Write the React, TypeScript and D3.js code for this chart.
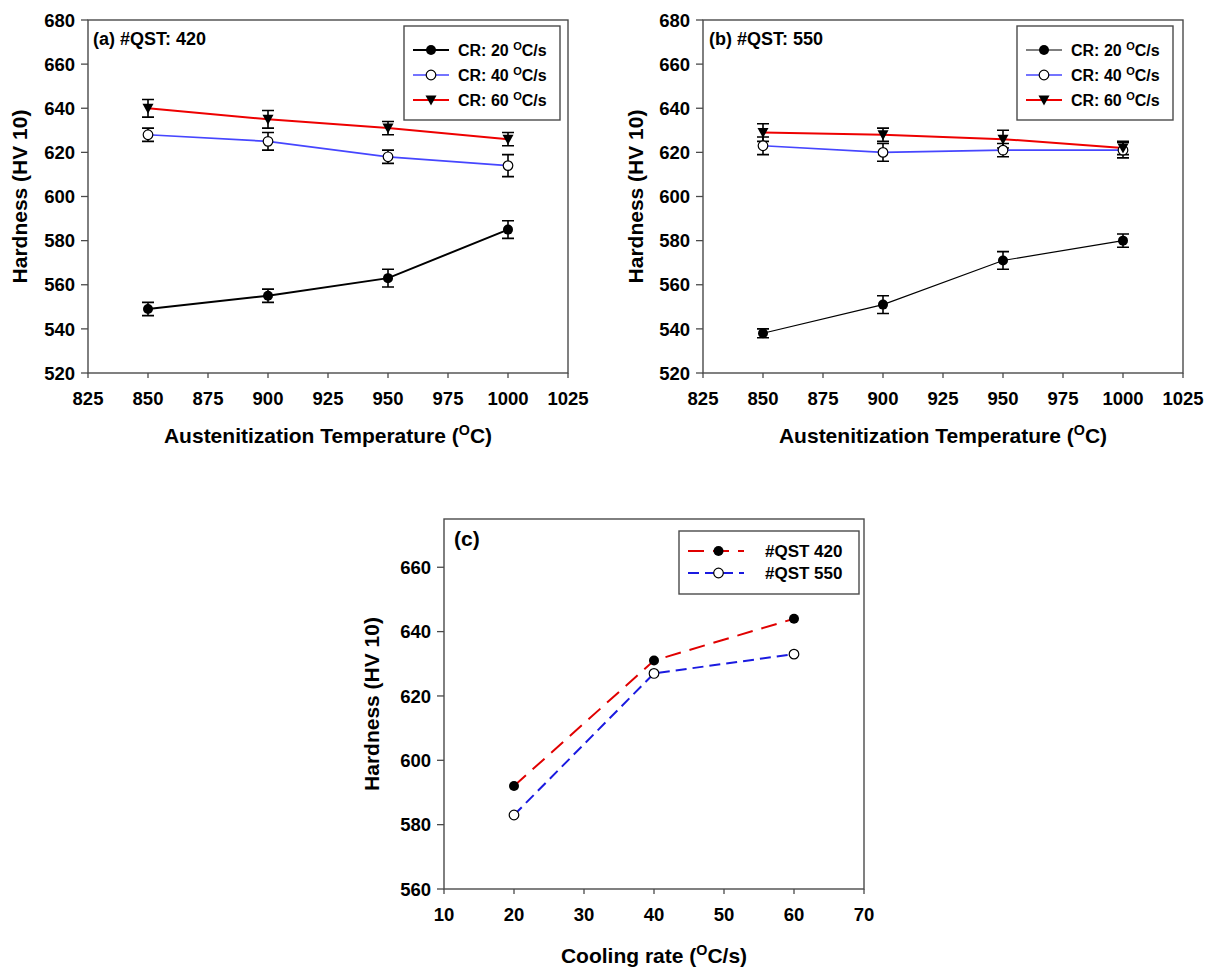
import React from "react";
import * as d3 from "d3";

// ---- data ----
const temperatures = [850, 900, 950, 1000];
const coolingRates = [20, 40, 60];

const qst420Cr20 = [549, 555, 563, 585];
const qst420Cr20Err = [3, 3, 4, 4];
const qst420Cr40 = [628, 625, 618, 614];
const qst420Cr40Err = [3, 4, 3, 5];
const qst420Cr60 = [640, 635, 631, 626];
const qst420Cr60Err = [4, 4, 3, 3];

const qst550Cr20 = [538, 551, 571, 580];
const qst550Cr20Err = [2, 4, 4, 3];
const qst550Cr40 = [623, 620, 621, 621];
const qst550Cr40Err = [4, 4, 3, 3.5];
const qst550Cr60 = [629, 628, 626, 622];
const qst550Cr60Err = [4, 3, 4, 3];

const qst420ByRate = [592, 631, 644];
const qst550ByRate = [583, 627, 633];

const tempTicks = [825, 850, 875, 900, 925, 950, 975, 1000, 1025];
const hardnessTicksAB = [520, 540, 560, 580, 600, 620, 640, 660, 680];
const rateTicks = [10, 20, 30, 40, 50, 60, 70];
const hardnessTicksC = [560, 580, 600, 620, 640, 660];

const crLabels = ["20", "40", "60"];
const qstLabels = ["#QST 420", "#QST 550"];

const FONT = "'Liberation Sans', Arial, sans-serif";
const FRAME = "#4a4a4a";

type Marker = "filled" | "open" | "triDown";

interface Series {
  values: number[];
  errors?: number[];
  color: string;
  width: number;
  marker: Marker;
  dash?: string;
}

function MarkerShape({ x, y, kind }: { x: number; y: number; kind: Marker }) {
  if (kind === "filled") return <circle cx={x} cy={y} r={5} fill="#000" />;
  if (kind === "open")
    return <circle cx={x} cy={y} r={4.8} fill="#fff" stroke="#000" strokeWidth={1.2} />;
  return (
    <path
      d={`M${x - 5.5},${y - 4.5}L${x + 5.5},${y - 4.5}L${x},${y + 5.5}Z`}
      fill="#000"
    />
  );
}

// Text with a superscript "O" used as the degree sign
function DegText({
  before,
  after,
  supSize,
}: {
  before: string;
  after: string;
  supSize: number;
}) {
  return (
    <>
      <tspan>{before}</tspan>
      <tspan fontSize={supSize} dy={-supSize * 0.55}>
        O
      </tspan>
      <tspan dy={supSize * 0.55}>{after}</tspan>
    </>
  );
}

interface PanelProps {
  left: number;
  top: number;
  width: number;
  height: number;
  xs: number[];
  xDomain: [number, number];
  yDomain: [number, number];
  xTicks: number[];
  yTicks: number[];
  series: Series[];
  errWidth: number;
  label: string;
  labelSize: number;
  labelDx: number;
  labelDy: number;
  xTitleBefore: string;
  xTitleAfter: string;
  titleSize: number;
  yTitleOffset: number;
  xTitleOffset: number;
  legend: React.ReactNode;
}

function Panel(p: PanelProps) {
  const x = d3.scaleLinear().domain(p.xDomain).range([p.left, p.left + p.width]);
  const y = d3.scaleLinear().domain(p.yDomain).range([p.top + p.height, p.top]);
  const bottom = p.top + p.height;
  const line = d3
    .line<number>()
    .x((_, i) => x(p.xs[i]))
    .y((v) => y(v));

  return (
    <g fontFamily={FONT} fontWeight="bold">
      {/* frame */}
      <rect
        x={p.left}
        y={p.top}
        width={p.width}
        height={p.height}
        fill="none"
        stroke={FRAME}
        strokeWidth={1.4}
      />
      {/* x ticks */}
      {p.xTicks.map((t) => (
        <g key={"xt" + t}>
          <line x1={x(t)} x2={x(t)} y1={bottom} y2={bottom + 5} stroke={FRAME} strokeWidth={1.3} />
          <text x={x(t)} y={bottom + 32} textAnchor="middle" fontSize={18.5}>
            {t}
          </text>
        </g>
      ))}
      {/* y ticks */}
      {p.yTicks.map((t) => (
        <g key={"yt" + t}>
          <line x1={p.left - 7} x2={p.left} y1={y(t)} y2={y(t)} stroke={FRAME} strokeWidth={1.3} />
          <text x={p.left - 13} y={y(t)} dy="0.36em" textAnchor="end" fontSize={18.5}>
            {t}
          </text>
        </g>
      ))}
      {/* axis titles */}
      <text
        x={p.left + p.width / 2}
        y={bottom + p.xTitleOffset}
        textAnchor="middle"
        fontSize={p.titleSize}
      >
        <DegText before={p.xTitleBefore} after={p.xTitleAfter} supSize={p.titleSize * 0.68} />
      </text>
      <text
        transform={`translate(${p.left - p.yTitleOffset},${p.top + p.height / 2}) rotate(-90)`}
        textAnchor="middle"
        dy="0.36em"
        fontSize={p.titleSize}
      >
        Hardness (HV 10)
      </text>
      {/* panel label */}
      <text x={p.left + p.labelDx} y={p.top + p.labelDy} fontSize={p.labelSize}>
        {p.label}
      </text>
      {/* lines */}
      {p.series.map((s, i) => (
        <path
          key={"l" + i}
          d={line(s.values) || ""}
          fill="none"
          stroke={s.color}
          strokeWidth={s.width}
          strokeDasharray={s.dash}
        />
      ))}
      {/* error bars */}
      {p.series.map((s, i) =>
        s.errors
          ? s.values.map((v, j) => {
              const cx = x(p.xs[j]);
              const y1 = y(v + s.errors![j]);
              const y2 = y(v - s.errors![j]);
              const hw = p.errWidth / 2;
              return (
                <path
                  key={`e${i}-${j}`}
                  d={`M${cx},${y1}V${y2}M${cx - hw},${y1}H${cx + hw}M${cx - hw},${y2}H${cx + hw}`}
                  stroke="#000"
                  strokeWidth={1.6}
                  fill="none"
                />
              );
            })
          : null
      )}
      {/* markers */}
      {p.series.map((s, i) =>
        s.values.map((v, j) => (
          <MarkerShape key={`m${i}-${j}`} x={x(p.xs[j])} y={y(v)} kind={s.marker} />
        ))
      )}
      {p.legend}
    </g>
  );
}

function CrLegend({
  left,
  top,
  series,
}: {
  left: number;
  top: number;
  series: Series[];
}) {
  const w = 156;
  const h = 94;
  return (
    <g fontFamily={FONT} fontWeight="bold">
      <rect x={left} y={top} width={w} height={h} fill="#fff" stroke={FRAME} strokeWidth={1.4} />
      {series.map((s, i) => {
        const ry = top + 24 + i * 25;
        return (
          <g key={i}>
            <line x1={left + 9} x2={left + 45} y1={ry} y2={ry} stroke={s.color} strokeWidth={s.width} />
            <MarkerShape x={left + 27} y={ry} kind={s.marker} />
            <text x={left + 54} y={ry} dy="0.36em" fontSize={16}>
              <DegText before={`CR: ${crLabels[i]} `} after="C/s" supSize={11} />
            </text>
          </g>
        );
      })}
    </g>
  );
}

export default function App() {
  const seriesA: Series[] = [
    { values: qst420Cr20, errors: qst420Cr20Err, color: "#000", width: 2, marker: "filled" },
    { values: qst420Cr40, errors: qst420Cr40Err, color: "#4646ff", width: 1.7, marker: "open" },
    { values: qst420Cr60, errors: qst420Cr60Err, color: "#ee0000", width: 2, marker: "triDown" },
  ];
  const seriesB: Series[] = [
    { values: qst550Cr20, errors: qst550Cr20Err, color: "#000", width: 1.2, marker: "filled" },
    { values: qst550Cr40, errors: qst550Cr40Err, color: "#4646ff", width: 1.7, marker: "open" },
    { values: qst550Cr60, errors: qst550Cr60Err, color: "#ee0000", width: 2, marker: "triDown" },
  ];
  const seriesC: Series[] = [
    { values: qst420ByRate, color: "#e00000", width: 2, marker: "filled", dash: "16 9" },
    { values: qst550ByRate, color: "#1a1ae0", width: 2, marker: "open", dash: "11 6" },
  ];

  const legendC = (
    <g fontFamily={FONT} fontWeight="bold">
      <rect x={679} y={531} width={180} height={63} fill="#fff" stroke={FRAME} strokeWidth={1.4} />
      {seriesC.map((s, i) => {
        const ry = 551 + i * 22;
        return (
          <g key={i}>
            <line
              x1={688}
              x2={744}
              y1={ry}
              y2={ry}
              stroke={s.color}
              strokeWidth={s.width}
              strokeDasharray={s.dash}
            />
            <MarkerShape x={718.5} y={ry} kind={s.marker} />
            <text x={765} y={ry} dy="0.36em" fontSize={17}>
              {qstLabels[i]}
            </text>
          </g>
        );
      })}
    </g>
  );

  return (
    <svg
      width={1216}
      height={971}
      style={{ position: "absolute", left: 0, top: 0, background: "#fff" }}
    >
      <rect width={1216} height={971} fill="#fff" />
      <Panel
        left={88}
        top={20}
        width={480}
        height={353}
        xs={temperatures}
        xDomain={[825, 1025]}
        yDomain={[520, 680]}
        xTicks={tempTicks}
        yTicks={hardnessTicksAB}
        series={seriesA}
        errWidth={12}
        label="(a) #QST: 420"
        labelSize={18}
        labelDx={5}
        labelDy={25}
        xTitleBefore="Austenitization Temperature ("
        xTitleAfter="C)"
        titleSize={21}
        yTitleOffset={69}
        xTitleOffset={70}
        legend={<CrLegend left={404} top={26} series={seriesA} />}
      />
      <Panel
        left={703}
        top={20}
        width={480}
        height={353}
        xs={temperatures}
        xDomain={[825, 1025]}
        yDomain={[520, 680]}
        xTicks={tempTicks}
        yTicks={hardnessTicksAB}
        series={seriesB}
        errWidth={12}
        label="(b) #QST: 550"
        labelSize={18}
        labelDx={6}
        labelDy={25}
        xTitleBefore="Austenitization Temperature ("
        xTitleAfter="C)"
        titleSize={21}
        yTitleOffset={68}
        xTitleOffset={70}
        legend={<CrLegend left={1017} top={26} series={seriesB} />}
      />
      <Panel
        left={444}
        top={519}
        width={420}
        height={370}
        xs={coolingRates}
        xDomain={[10, 70]}
        yDomain={[560, 675]}
        xTicks={rateTicks}
        yTicks={hardnessTicksC}
        series={seriesC}
        errWidth={0}
        label="(c)"
        labelSize={21}
        labelDx={10}
        labelDy={27}
        xTitleBefore="Cooling rate ("
        xTitleAfter="C/s)"
        titleSize={21}
        yTitleOffset={73}
        xTitleOffset={74}
        legend={legendC}
      />
    </svg>
  );
}
